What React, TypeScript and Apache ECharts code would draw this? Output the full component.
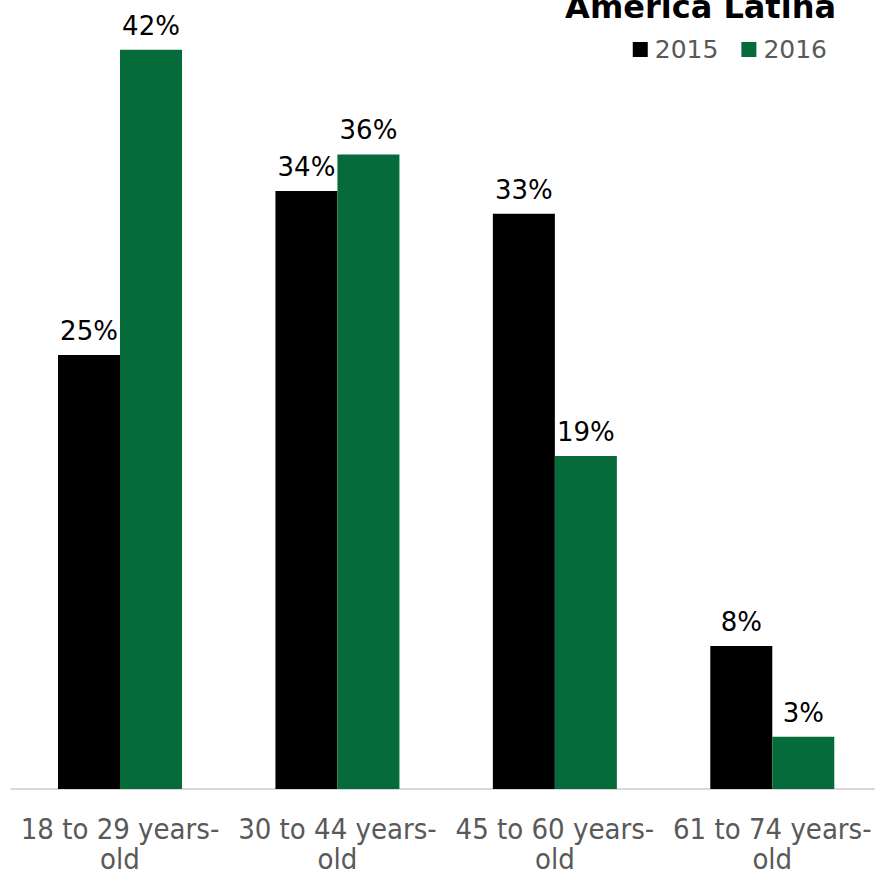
import React, { useEffect, useRef } from "react";
import * as echarts from "echarts";

const categories = ["18 to 29 years-old", "30 to 44 years-old", "45 to 60 years-old", "61 to 74 years-old"];
const seriesNames = ["2015", "2016"];
const values2015 = [24.9, 34.3, 33.0, 8.2];
const values2016 = [42.4, 36.4, 19.1, 3.0];
const titleText = "América Latina";

export default function App() {
  const ref = useRef<HTMLDivElement>(null);
  useEffect(() => {
    if (!ref.current) return;
    const chart = echarts.init(ref.current, null, { renderer: "svg" });
    const labelStyle = {
      show: true,
      position: "top" as const,
      distance: 11,
      color: "#000",
      fontFamily: "DejaVu Sans",
      fontSize: 26,
      formatter: (p: any) => Math.round(p.value) + "%",
    };
    chart.setOption({
      animation: false,
      backgroundColor: "#fff",
      graphic: [
        {
          type: "text",
          style: {
            text: titleText,
            x: 836,
            y: 23,
            textAlign: "right",
            textVerticalAlign: "bottom",
            fontFamily: "DejaVu Sans",
            fontWeight: "bold",
            fontSize: 32,
            fill: "#000",
          },
        },
      ],
      legend: {
        right: 54,
        top: 37,
        padding: 0,
        itemWidth: 15,
        itemHeight: 15,
        itemGap: 23,
        icon: "rect",
        textStyle: { color: "#595959", fontFamily: "DejaVu Sans", fontSize: 25, padding: [0, 0, 0, 2] },
        data: seriesNames,
      },
      grid: { left: 11.3, right: 0, top: 4.5, bottom: 82, containLabel: false },
      xAxis: {
        type: "category",
        data: categories,
        axisLine: { lineStyle: { color: "#d9d9d9", width: 2 } },
        axisTick: { show: false },
        axisLabel: {
          interval: 0,
          margin: 25,
          color: "#595959",
          fontFamily: "DejaVu Sans Condensed",
          fontSize: 29,
          lineHeight: 30,
          formatter: (v: string) => v.replace("years-", "years-\n"),
        },
      },
      yAxis: {
        type: "value",
        min: 0,
        max: 45,
        show: false,
        splitLine: { show: false },
      },
      series: [
        {
          name: seriesNames[0],
          type: "bar",
          data: values2015,
          barWidth: 62,
          barGap: "0%",
          itemStyle: { color: "#000000" },
          label: labelStyle,
        },
        {
          name: seriesNames[1],
          type: "bar",
          data: values2016,
          barWidth: 62,
          barGap: "0%",
          itemStyle: { color: "#066B3A" },
          label: labelStyle,
        },
      ],
    });
    return () => chart.dispose();
  }, []);
  return <div ref={ref} style={{ position: "fixed", left: 0, top: 0, width: 881, height: 874 }} />;
}
